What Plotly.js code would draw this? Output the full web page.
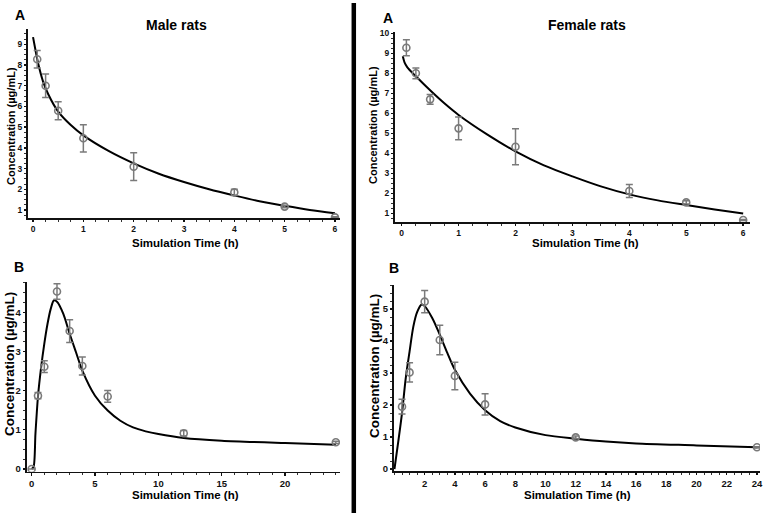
<!DOCTYPE html>
<html>
<head>
<meta charset="utf-8">
<script src="https://cdn.plot.ly/plotly-3.0.1.min.js"></script>
<style>html,body{margin:0;padding:0;background:#fff;}#chart{width:765px;height:513px;}</style>
</head>
<body>
<div id="chart"></div>
<script>
// ---------- DATA ----------
// Panel A (IV, 0-6 h)
const timeA = [0.083, 0.25, 0.5, 1, 2, 4, 5, 6];
const maleA_obs = [8.28, 7.0, 5.79, 4.46, 3.09, 1.85, 1.16, 0.64];
const maleA_sd  = [0.42, 0.57, 0.43, 0.66, 0.67, 0.15, 0.05, 0.03];
const femaleA_obs = [9.28, 8.0, 6.7, 5.25, 4.33, 2.12, 1.55, 0.67];
const femaleA_sd  = [0.40, 0.27, 0.24, 0.57, 0.90, 0.33, 0.08, 0.03];

const maleA_simT = [0, 0.05, 0.1, 0.2, 0.3, 0.5, 0.75, 1, 1.5, 2, 2.5, 3, 3.5, 4, 4.5, 5, 5.5, 6];
const maleA_sim  = [9.35, 8.7, 8.1, 7.2, 6.6, 5.75, 5.1, 4.6, 3.85, 3.25, 2.75, 2.35, 2.0, 1.7, 1.42, 1.2, 1.0, 0.84];
const femaleA_simT = [0.02, 0.05, 0.1, 0.25, 0.5, 0.75, 1, 1.5, 2, 2.5, 3, 3.5, 4, 4.5, 5, 5.5, 6];
const femaleA_sim  = [8.85, 8.55, 8.3, 7.85, 7.15, 6.5, 5.92, 4.95, 4.1, 3.4, 2.85, 2.35, 1.95, 1.65, 1.42, 1.2, 1.0];

// Panel B (oral, 0-24 h)
const timeBm = [0, 0.5, 1, 2, 3, 4, 6, 12, 24];
const maleB_obs = [0, 1.87, 2.61, 4.53, 3.52, 2.63, 1.85, 0.91, 0.68];
const maleB_sd  = [0, 0.08, 0.15, 0.20, 0.29, 0.23, 0.15, 0.07, 0.03];
const timeBf = [0.5, 1, 2, 3, 4, 6, 12, 24];
const femaleB_obs = [1.95, 3.02, 5.23, 4.03, 2.91, 2.02, 0.99, 0.68];
const femaleB_sd  = [0.23, 0.30, 0.35, 0.46, 0.43, 0.33, 0.04, 0.02];

const maleB_simT = [0, 0.15, 0.3, 0.5, 0.75, 1, 1.25, 1.5, 1.75, 2, 2.5, 3, 3.5, 4, 5, 6, 7, 8, 9, 10, 12, 15, 20, 24];
const maleB_sim  = [0, 0.05, 0.9, 1.85, 2.6, 3.2, 3.7, 4.08, 4.3, 4.27, 3.96, 3.45, 2.98, 2.51, 1.87, 1.49, 1.23, 1.06, 0.96, 0.89, 0.79, 0.72, 0.66, 0.62];
const femaleB_simT = [0, 0.25, 0.5, 0.75, 1, 1.25, 1.5, 1.8, 2, 2.5, 3, 3.5, 4, 5, 6, 7, 8, 10, 12, 14, 16, 20, 24];
const femaleB_sim  = [0, 0.85, 1.75, 2.85, 3.67, 4.45, 4.9, 5.14, 5.09, 4.72, 4.2, 3.63, 3.1, 2.36, 1.84, 1.5, 1.3, 1.06, 0.95, 0.86, 0.80, 0.74, 0.68];

// Tick labels
const ticksA_x = [0, 1, 2, 3, 4, 5, 6];
const ticksMaleA_y = [1, 2, 3, 4, 5, 6, 7, 8, 9];
const ticksFemaleA_y = [1, 2, 3, 4, 5, 6, 7, 8, 9, 10];
const ticksMaleB_x = [0, 5, 10, 15, 20];
const ticksMaleB_y = [0, 1, 2, 3, 4];
const ticksFemaleB_x = [2, 4, 6, 8, 10, 12, 14, 16, 18, 20, 22, 24];
const ticksFemaleB_y = [0, 1, 2, 3, 4, 5];

// ---------- LAYOUT HELPERS ----------
const W = 765, H = 513;
const FONT = 'Liberation Sans, Arial, sans-serif';
const xd = (a, b) => [a / W, b / W];
const yd = (top, bottom) => [1 - bottom / H, 1 - top / H];
const px = v => v / W;
const py = v => 1 - v / H;

function minorTicks(d) {
  return {ticks: 'outside', ticklen: 2, tickwidth: 1, tickcolor: '#333', dtick: d};
}
function axis(extra, fsize) {
  return Object.assign({
    showline: true, linecolor: '#111', linewidth: 1.6,
    ticks: 'outside', ticklen: 2.5, tickwidth: 1.4, tickcolor: '#111',
    showgrid: false, zeroline: false, tickmode: 'array',
    tickfont: {family: FONT, size: fsize, color: '#111', weight: 'bold'}
  }, extra);
}

const obsStyle = {
  mode: 'markers', type: 'scatter', showlegend: false,
  marker: {symbol: 'circle-open', color: '#7a7a7a', size: 7, line: {width: 1.6, color: '#7a7a7a'}}
};
function obs(x, y, sd, xa, ya) {
  return Object.assign({}, obsStyle, {x: x, y: y, xaxis: xa, yaxis: ya,
    error_y: {type: 'data', array: sd, visible: true, color: '#7a7a7a', thickness: 1.5, width: 3.5}});
}
function sim(x, y, xa, ya) {
  return {x: x, y: y, xaxis: xa, yaxis: ya, type: 'scatter', mode: 'lines', showlegend: false,
    line: {color: '#000', width: 2, shape: 'spline', smoothing: 0.8}};
}

const data = [
  sim(maleA_simT, maleA_sim, 'x', 'y'),
  obs(timeA, maleA_obs, maleA_sd, 'x', 'y'),
  sim(femaleA_simT, femaleA_sim, 'x2', 'y2'),
  obs(timeA, femaleA_obs, femaleA_sd, 'x2', 'y2'),
  sim(maleB_simT, maleB_sim, 'x3', 'y3'),
  obs(timeBm, maleB_obs, maleB_sd, 'x3', 'y3'),
  sim(femaleB_simT, femaleB_sim, 'x4', 'y4'),
  obs(timeBf, femaleB_obs, femaleB_sd, 'x4', 'y4')
];

function ann(text, x, y, size, angle) {
  return {text: text, xref: 'paper', yref: 'paper', x: px(x), y: py(y), showarrow: false,
    xanchor: 'center', yanchor: 'middle', textangle: angle || 0, borderpad: 0,
    font: {family: FONT, size: size, color: '#000', weight: 'bold'}};
}

const layout = {
  width: W, height: H, margin: {l: 0, r: 0, t: 0, b: 0},
  paper_bgcolor: '#fff', plot_bgcolor: '#fff', showlegend: false,
  xaxis: axis({domain: xd(28, 340), range: [-0.1, 6.1], anchor: 'y', tickvals: ticksA_x, minor: minorTicks(0.25)}, 8.5),
  yaxis: axis({domain: yd(29, 218), range: [0.61, 9.74], anchor: 'x', tickvals: ticksMaleA_y, minor: minorTicks(0.25)}, 8.5),
  xaxis2: axis({domain: xd(395, 750), range: [-0.117, 6.12], anchor: 'y2', tickvals: ticksA_x, minor: minorTicks(0.25)}, 8.5),
  yaxis2: axis({domain: yd(31.7, 222), range: [0.57, 10.08], anchor: 'x2', tickvals: ticksFemaleA_y, minor: minorTicks(0.25)}, 8.5),
  xaxis3: axis({domain: xd(26.7, 340), range: [-0.39, 24.33], anchor: 'y3', tickvals: ticksMaleB_x, minor: minorTicks(1)}, 9.5),
  yaxis3: axis({domain: yd(281.7, 471.7), range: [-0.07, 4.78], anchor: 'x3', tickvals: ticksMaleB_y, minor: minorTicks(0.25)}, 9.5),
  xaxis4: axis({domain: xd(394, 760), range: [-0.03, 24.2], anchor: 'y4', tickvals: ticksFemaleB_x, minor: minorTicks(0.5)}, 9.5),
  yaxis4: axis({domain: yd(285, 471), range: [-0.06, 5.75], anchor: 'x4', tickvals: ticksFemaleB_y, minor: minorTicks(0.25)}, 9.5),
  shapes: [
    {type: 'line', xref: 'paper', yref: 'paper', x0: px(353.8), x1: px(353.8), y0: 0, y1: py(3),
      line: {color: '#000', width: 4.5}}
  ],
  annotations: [
    ann('A', 20, 15, 14), ann('A', 388, 18, 14), ann('B', 19, 267, 14), ann('B', 394, 268, 14),
    ann('Male rats', 176, 25, 14), ann('Female rats', 587, 25, 14),
    ann('Simulation Time (h)', 185, 242.5, 11.5), ann('Simulation Time (h)', 585, 243.5, 11.5),
    ann('Simulation Time (h)', 185, 494.5, 11.5), ann('Simulation Time (h)', 577, 494.5, 11.5),
    ann('Concentration (µg/mL)', 11, 126, 11, -90), ann('Concentration (µg/mL)', 373, 125, 11, -90),
    ann('Concentration (µg/mL)', 9, 364, 13.5, -90), ann('Concentration (µg/mL)', 374, 366, 13.5, -90)
  ]
};

Plotly.newPlot('chart', data, layout, {staticPlot: true, displayModeBar: false});
</script>
</body>
</html>
